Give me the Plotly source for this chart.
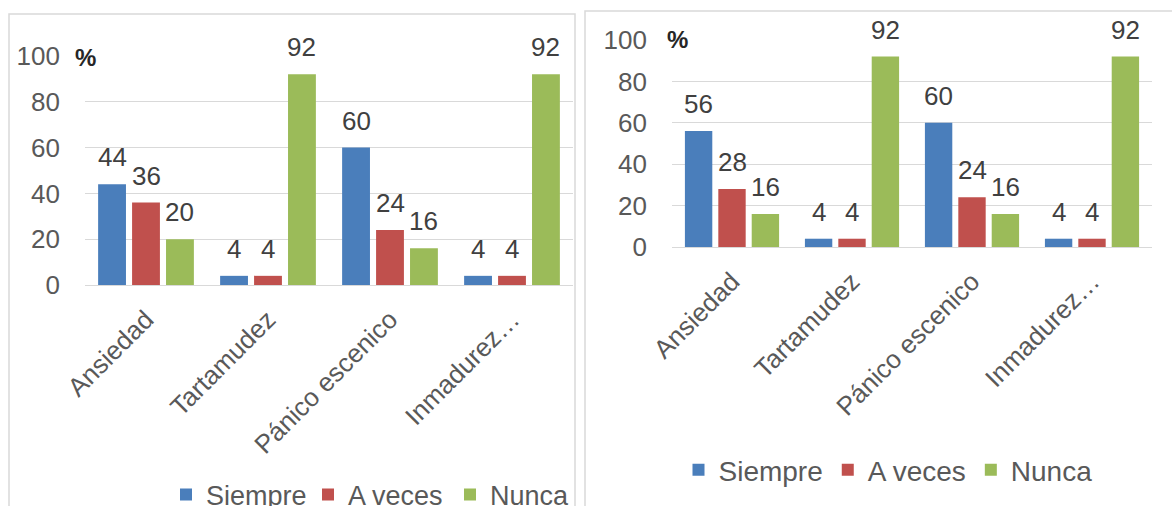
import plotly.graph_objects as go
from plotly.subplots import make_subplots

categories = ["Ansiedad", "Tartamudez", "Pánico escenico", "Inmadurez…"]
series_names = ["Siempre", "A veces", "Nunca"]

# left chart
left_siempre = [44, 4, 60, 4]
left_a_veces = [36, 4, 24, 4]
left_nunca = [20, 92, 16, 92]

# right chart
right_siempre = [56, 4, 60, 4]
right_a_veces = [28, 4, 24, 4]
right_nunca = [16, 92, 16, 92]

y_ticks = [0, 20, 40, 60, 80, 100]

COLORS = ["#4A7EBB", "#C0504D", "#9BBB59"]
FONT = "Liberation Sans, Arial, sans-serif"
W, H = 1172, 506
BARGAP = 0.165


def px_x(p):
    return p / W


def px_y(p):
    return 1 - p / H


fig = make_subplots(rows=1, cols=2)

panels = [
    (1, [left_siempre, left_a_veces, left_nunca], "legend"),
    (2, [right_siempre, right_a_veces, right_nunca], "legend2"),
]
slot = (1 - BARGAP) / len(series_names)
for col, series, leg in panels:
    for k, (name, vals, color) in enumerate(zip(series_names, series, COLORS)):
        fig.add_trace(
            go.Bar(
                x=categories,
                y=vals,
                name=name,
                marker=dict(color=color, line=dict(width=0)),
                legend=leg,
            ),
            row=1,
            col=col,
        )
        # data labels a bit above the bars, like Excel does
        xr = "x" if col == 1 else "x2"
        yr = "y" if col == 1 else "y2"
        for i, v in enumerate(vals):
            fig.add_annotation(
                x=i + (k - 1) * slot, y=v, xref=xr, yref=yr,
                text=str(v), showarrow=False,
                xanchor="center", yanchor="middle", yshift=27,
                font=dict(size=26, color="#404040", family=FONT),
            )

fig.update_layout(
    width=W,
    height=H,
    autosize=False,
    margin=dict(l=0, r=0, t=0, b=0, autoexpand=False),
    paper_bgcolor="white",
    plot_bgcolor="white",
    bargap=BARGAP,
    bargroupgap=0.18,
    font=dict(family=FONT, color="#595959", size=26),
    legend=dict(
        orientation="h",
        x=px_x(166), xanchor="left",
        y=px_y(495), yanchor="middle",
        font=dict(size=27, color="#595959"),
        entrywidth=97,
        entrywidthmode="pixels",
        bgcolor="rgba(0,0,0,0)",
    ),
    legend2=dict(
        orientation="h",
        x=px_x(888), xanchor="center",
        y=px_y(470), yanchor="middle",
        font=dict(size=28, color="#595959"),
        bgcolor="rgba(0,0,0,0)",
    ),
    xaxis=dict(domain=[px_x(85), px_x(573)], anchor="y"),
    yaxis=dict(domain=[px_y(285), px_y(56)], anchor="x"),
    xaxis2=dict(domain=[px_x(672), px_x(1152)], anchor="y2"),
    yaxis2=dict(domain=[px_y(247), px_y(40)], anchor="x2"),
)

fig.update_xaxes(
    tickangle=-45,
    showgrid=False,
    showline=True,
    linecolor="#D9D9D9",
    linewidth=1,
    ticks="",
    tickfont=dict(size=26, color="#595959"),
    ticklabelstandoff=8,
    automargin=False,
)
fig.update_yaxes(
    range=[0, 100],
    tickvals=y_ticks,
    showgrid=True,
    gridcolor="#D9D9D9",
    gridwidth=1,
    zeroline=False,
    showline=False,
    ticks="",
    tickfont=dict(size=26, color="#595959"),
    ticklabelstandoff=24,
    automargin=False,
)

# chart frames
fig.add_shape(type="rect", xref="paper", yref="paper",
              x0=px_x(9), x1=px_x(575), y0=px_y(530), y1=px_y(14),
              line=dict(color="#D9D9D9", width=1.5), fillcolor="rgba(0,0,0,0)", layer="below")
fig.add_shape(type="rect", xref="paper", yref="paper",
              x0=px_x(585), x1=px_x(1190), y0=px_y(530), y1=px_y(11),
              line=dict(color="#D9D9D9", width=1.5), fillcolor="rgba(0,0,0,0)", layer="below")

# "%" marks next to the 100 tick
for xp, yp in [(85, 57), (678, 40)]:
    fig.add_annotation(
        text="<b>%</b>", xref="paper", yref="paper",
        x=px_x(xp), y=px_y(yp), xanchor="center", yanchor="middle",
        showarrow=False, font=dict(size=24, color="#262626", family=FONT),
        bgcolor="white",
    )

fig.write_html("out.html", config={"displayModeBar": False},
               post_script="document.body.style.margin='0';")
